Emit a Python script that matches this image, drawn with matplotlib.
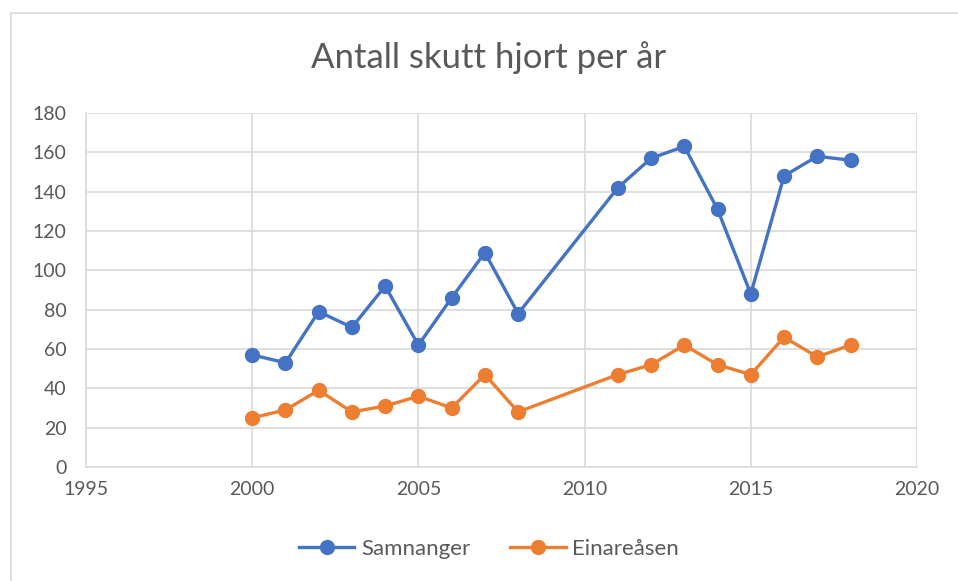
import matplotlib.pyplot as plt
from matplotlib.patches import Rectangle

years_a = [2000, 2001, 2002, 2003, 2004, 2005, 2006, 2007, 2008, 2011, 2012, 2013, 2014, 2015, 2016, 2017, 2018]
samnanger = [57, 53, 79, 71, 92, 62, 86, 109, 78, 142, 157, 163, 131, 88, 148, 158, 156]
einareasen = [25, 29, 39, 28, 31, 36, 30, 47, 28, 47, 52, 62, 52, 47, 66, 56, 62]

plt.rcParams['font.family'] = ['Lato', 'DejaVu Sans']
txt = "#595959"
grid = "#d9d9d9"

fig = plt.figure(figsize=(9.58, 5.81), dpi=100)
fig.patches.append(Rectangle((11/958, -0.05), 1.0, 1 - 13/581 + 0.05, transform=fig.transFigure,
                             fill=False, edgecolor=grid, linewidth=1.2))
ax = fig.add_axes([86/958, 1 - 467/581, (917 - 86)/958, (467 - 113)/581])

ax.plot(years_a, samnanger, color="#4472C4", lw=2.4, marker="o", ms=10, label="Samnanger")
ax.plot(years_a, einareasen, color="#ED7D31", lw=2.4, marker="o", ms=10, label="Einareåsen")

ax.set_xlim(1995, 2020)
ax.set_ylim(0, 180)
ax.set_xticks(range(1995, 2021, 5))
ax.set_yticks(range(0, 181, 20))
ax.grid(True, color=grid, lw=1.2)
ax.set_axisbelow(True)
for s in ["top", "right"]:
    ax.spines[s].set_visible(False)
for s in ["left", "bottom"]:
    ax.spines[s].set_color(grid)
    ax.spines[s].set_linewidth(1.2)
ax.tick_params(length=0, labelsize=14, colors=txt, pad=10)
ax.tick_params(axis="y", pad=14)

fig.text(489/958, 1 - 58/581, "Antall skutt hjort per år", ha="center", va="center", fontsize=25, color=txt)
fig.legend(loc="center", bbox_to_anchor=(489/958, 1 - 549/581), ncol=2, frameon=False,
           fontsize=16, labelcolor=txt, handlelength=2.5, handletextpad=0.3, columnspacing=1.8)

fig.savefig("out.png", dpi=100)
